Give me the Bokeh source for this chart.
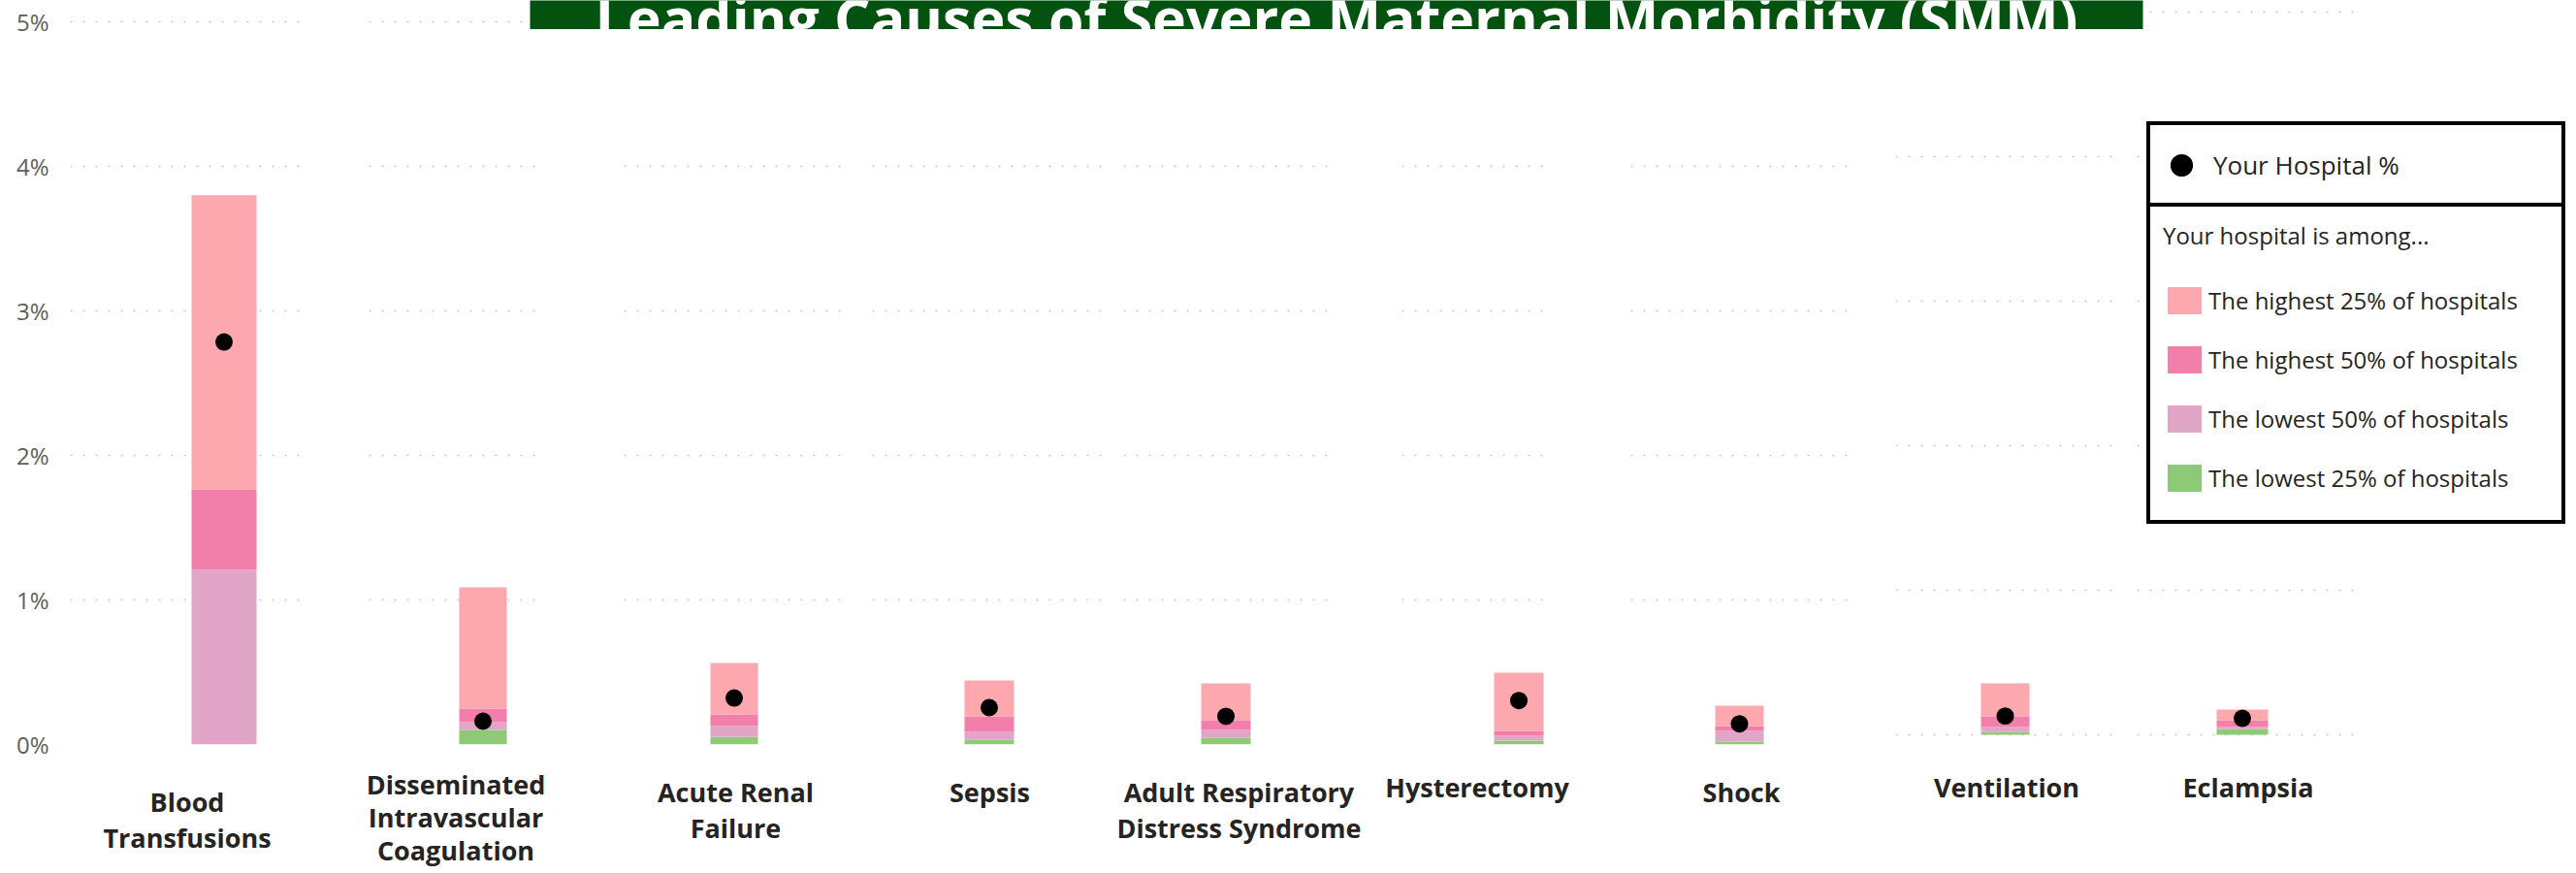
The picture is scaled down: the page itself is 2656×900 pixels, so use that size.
from bokeh.plotting import figure
from bokeh.models import (ColumnDataSource, FactorRange, Range1d, FixedTicker,
                          PrintfTickFormatter, Legend, LegendItem, Label)
from bokeh.layouts import row, column
from bokeh.transform import dodge
from bokeh.embed import file_html
from bokeh.resources import INLINE

# ---------------- data ----------------
categories = ["Blood Transfusions", "Disseminated Intravascular Coagulation",
              "Acute Renal Failure", "Sepsis", "Adult Respiratory Distress Syndrome",
              "Hysterectomy", "Shock", "Ventilation", "Eclampsia"]
category_labels = ["Blood\nTransfusions", "Disseminated\nIntravascular\nCoagulation",
                   "Acute Renal\nFailure", "Sepsis", "Adult Respiratory\nDistress Syndrome",
                   "Hysterectomy", "Shock", "Ventilation", "Eclampsia"]
# cumulative percentile levels (% of deliveries)
lowest_25 = [0.000, 0.100, 0.054, 0.034, 0.047, 0.027, 0.020, 0.020, 0.040]
lowest_50 = [1.210, 0.154, 0.128, 0.087, 0.101, 0.060, 0.094, 0.054, 0.054]
highest_50 = [1.765, 0.248, 0.208, 0.195, 0.168, 0.094, 0.128, 0.128, 0.101]
highest_25 = [3.800, 1.087, 0.564, 0.443, 0.423, 0.497, 0.268, 0.356, 0.174]
your_hospital = [2.785, 0.161, 0.322, 0.255, 0.195, 0.304, 0.143, 0.130, 0.114]
y_ticks = [0, 1, 2, 3, 4, 5]
legend_labels = ["The highest 25% of hospitals", "The highest 50% of hospitals",
                 "The lowest 50% of hospitals", "The lowest 25% of hospitals"]
TITLE = "Leading Causes of Severe Maternal Morbidity (SMM)"

# ---------------- styles / layout ----------------
FONT = "Open Sans"
C_TOP = "#FDA7AF"
C_HI50 = "#F27FA9"
C_LO50 = "#E1A5C7"
C_LO25 = "#8DC976"
seg_colors = [C_TOP, C_HI50, C_LO50, C_LO25]
GRID_C = "#C8C6C4"
TEXT_C = "#252423"
GREEN = "#04520F"

PAGE_W = 2656
H = 898
TOP = 4            # frame top (page px)
BOTTOM = 767       # frame bottom (page px), shared by every panel
PX_PER_PCT = 149.0
frames = [(72, 313), (380, 559), (643, 873), (899, 1141), (1158, 1372),
          (1445, 1600), (1681, 1909), (1954, 2183), (2203, 2432)]
bar_px = [(197, 264), (473, 522), (732, 781), (994, 1045), (1238, 1289),
          (1540, 1591), (1768, 1818), (2042, 2092), (2285, 2338)]
zero_px = [767] * 7 + [757] * 2
lab_standoff = [40, 22, 30, 30, 30, 25, 30, 25, 25]
lab_line_h = [1.0, 0.93, 1.0, 1.0, 1.0, 1.0, 1.0, 1.0, 1.0]
bounds = [0, 346, 601, 886, 1145, 1408, 1640, 1931, 2193, 2448]
LEG_X0 = 2200

panels = []
for i, lab in enumerate(category_labels):
    fl, fr = frames[i]
    z = zero_px[i]
    L, R = bounds[i], bounds[i + 1]
    w = fr - fl
    src = ColumnDataSource(dict(x=[lab], lo25=[lowest_25[i]], lo50=[lowest_50[i]],
                                hi50=[highest_50[i]], hi25=[highest_25[i]],
                                hosp=[your_hospital[i]]))
    p = figure(x_range=FactorRange(factors=[lab]),
               y_range=Range1d(-(BOTTOM - z) / PX_PER_PCT, (z - TOP) / PX_PER_PCT),
               width=R - L, height=H,
               min_border_left=fl - L, min_border_right=R - fr,
               min_border_top=TOP, min_border_bottom=H - BOTTOM,
               y_axis_location="left" if i == 0 else None,
               toolbar_location=None, output_backend="svg",
               outline_line_color=None, background_fill_alpha=0, border_fill_alpha=0)
    b0, b1 = bar_px[i]
    off = ((b0 + b1) / 2 - (fl + fr) / 2) / w
    bw = (b1 - b0) / w
    xs = dodge("x", off, range=p.x_range)
    p.vbar(x=xs, width=bw, bottom=0, top="lo25", source=src, fill_color=C_LO25, line_color=None)
    p.vbar(x=xs, width=bw, bottom="lo25", top="lo50", source=src, fill_color=C_LO50, line_color=None)
    p.vbar(x=xs, width=bw, bottom="lo50", top="hi50", source=src, fill_color=C_HI50, line_color=None)
    p.vbar(x=xs, width=bw, bottom="hi50", top="hi25", source=src, fill_color=C_TOP, line_color=None)
    p.scatter(x=xs, y="hosp", size=18, fill_color="black", line_color=None, source=src)

    p.xgrid.visible = False
    p.ygrid.ticker = FixedTicker(ticks=y_ticks)
    p.ygrid.grid_line_color = GRID_C
    p.ygrid.grid_line_dash = "2 11"
    p.ygrid.grid_line_width = 1.5

    ax = p.xaxis[0]
    ax.axis_line_color = None
    ax.major_tick_line_color = None
    ax.minor_tick_line_color = None
    ax.major_tick_out = 0
    ax.major_tick_in = 0
    ax.major_label_standoff = lab_standoff[i]
    ax.major_label_text_font = FONT
    ax.major_label_text_font_size = "27px"
    ax.major_label_text_font_style = "bold"
    ax.major_label_text_color = TEXT_C
    ax.major_label_text_line_height = lab_line_h[i]

    if i == 0:
        ya = p.yaxis[0]
        ya.ticker = FixedTicker(ticks=y_ticks)
        ya.formatter = PrintfTickFormatter(format="%d%%")
        ya.axis_line_color = None
        ya.major_tick_line_color = None
        ya.minor_tick_line_color = None
        ya.major_tick_out = 0
        ya.major_tick_in = 0
        ya.major_label_standoff = 22
        ya.major_label_text_font = FONT
        ya.major_label_text_font_size = "24px"
        ya.major_label_text_color = "#605E5C"
    panels.append(p)

# ---------------- legend (overlaid panel) ----------------
lf = figure(x_range=Range1d(0, 1), y_range=Range1d(0, 1),
            width=PAGE_W - LEG_X0, height=H,
            min_border_left=5, min_border_right=5,
            min_border_top=TOP, min_border_bottom=H - BOTTOM,
            x_axis_location=None, y_axis_location=None,
            toolbar_location=None, output_backend="svg",
            background_fill_alpha=0, border_fill_alpha=0, outline_line_color=None)
lf.xgrid.visible = False
lf.ygrid.visible = False
lf.margin = (0, 0, 0, LEG_X0 - bounds[-1])
# swatch-only renderers (NaN data: nothing drawn in the plot area)
key_src = ColumnDataSource(dict(x=[float("nan")], y=[float("nan")], top=[float("nan")]))
leg_dot = lf.scatter(x="x", y="y", source=key_src, size=18, fill_color="black", line_color=None)
leg_segs = [lf.vbar(x="x", top="top", width=0.1, source=key_src, fill_color=c, line_color=None)
            for c in seg_colors]

legA = Legend(items=[LegendItem(label="Your Hospital %", renderers=[leg_dot])],
              location=(8, BOTTOM - 215), orientation="vertical",
              padding=3, margin=0, spacing=0,
              glyph_width=58, glyph_height=76, label_height=76,
              label_standoff=4, label_width=356,
              label_text_font=FONT, label_text_font_size="26px",
              label_text_color=TEXT_C,
              background_fill_color="white", background_fill_alpha=1,
              border_line_color="black", border_line_alpha=1, border_line_width=4)
legB = Legend(items=[LegendItem(label=t, renderers=[r]) for t, r in zip(legend_labels, leg_segs)],
              title="Your hospital is among...",
              title_text_font=FONT, title_text_font_size="24px",
              title_text_font_style="normal", title_text_color=TEXT_C,
              title_standoff=20,
              location=(8, BOTTOM - 540), orientation="vertical",
              padding=13, margin=0, spacing=0,
              glyph_width=44, glyph_height=35, label_height=61,
              label_standoff=3, label_width=351,
              label_text_font=FONT, label_text_font_size="24px",
              label_text_color=TEXT_C,
              background_fill_color="white", background_fill_alpha=1,
              border_line_color="black", border_line_alpha=1, border_line_width=4)
lf.add_layout(legA)
lf.add_layout(legB)

# ---------------- title banner ----------------
tf = figure(x_range=Range1d(0, 1), y_range=Range1d(0, 1),
            width=PAGE_W, height=30,
            min_border_left=546, min_border_right=PAGE_W - 2209,
            min_border_top=0, min_border_bottom=0,
            x_axis_location=None, y_axis_location=None,
            toolbar_location=None, output_backend="svg",
            background_fill_color=GREEN, border_fill_alpha=0, outline_line_color=None)
tf.xgrid.visible = False
tf.ygrid.visible = False
tf.add_layout(Label(x=0.5, y=13 / 30, text=TITLE, text_align="center",
                    text_baseline="alphabetic", text_color="white", text_font=FONT,
                    text_font_style="bold", text_font_size="59px"))
tf.margin = (0, 0, -30, 0)
tf.styles = {"z-index": "10", "position": "relative"}

root = column(tf, row(*panels, lf, spacing=0), spacing=0)

open("out.html", "w").write(file_html(root, INLINE))
